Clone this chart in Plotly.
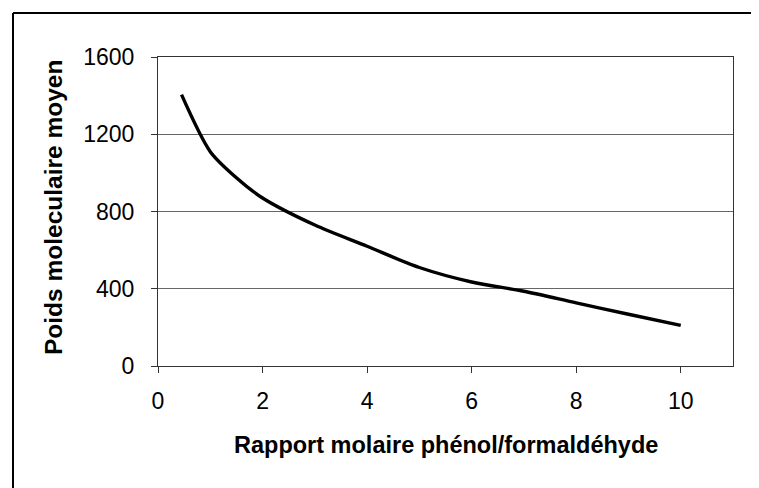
import plotly.graph_objects as go

# Data
ratio = [0.45, 1, 1.5, 2, 3, 4, 5, 6, 7, 8, 9, 10]
poids = [1405, 1110, 975, 870, 730, 620, 510, 435, 387, 327, 268, 210]

x_ticks = [0, 2, 4, 6, 8, 10]
y_ticks = [0, 400, 800, 1200, 1600]

x_title = "Rapport molaire phénol/formaldéhyde"
y_title = "Poids moleculaire moyen"

FONT = "Liberation Sans, Arial, sans-serif"

fig = go.Figure()
fig.add_trace(go.Scatter(
    x=ratio, y=poids, mode="lines",
    line=dict(color="black", width=3.4, shape="spline", smoothing=0.8),
    showlegend=False, hoverinfo="x+y",
))

# The page body adds an 8px offset, so the figure is 8px smaller
OFF = 8
W, H = 759 - OFF, 488 - OFF
L, T = 158 - OFF, 57 - OFF
R = W - (733 - OFF)
B = H - (366 - OFF)
pw, ph = W - L - R, H - T - B

def px_to_paper_x(px):
    return (px - OFF - L) / pw

def py_to_paper_y(py):
    return (H - B - (py - OFF)) / ph

fig.update_layout(
    width=W, height=H,
    margin=dict(l=L, r=R, t=T, b=B, pad=0),
    paper_bgcolor="white", plot_bgcolor="white",
    font=dict(family=FONT, size=23, color="black"),
    xaxis=dict(
        range=[0, 11], tickvals=x_ticks, ticktext=[str(v) for v in x_ticks],
        showgrid=False, zeroline=False,
        showline=True, linecolor="#333", linewidth=1, mirror=True,
        ticks="outside", ticklen=6, tickcolor="#333",
        ticklabelstandoff=8,
    ),
    yaxis=dict(
        range=[0, 1600], tickvals=y_ticks, ticktext=[str(v) for v in y_ticks],
        showgrid=True, gridcolor="#666", gridwidth=1, zeroline=False,
        showline=True, linecolor="#333", linewidth=1, mirror=True,
        ticks="outside", ticklen=6, tickcolor="#333",
        ticklabelstandoff=12,
    ),
    annotations=[
        dict(text=f"<b>{x_title}</b>", xref="paper", yref="paper",
             x=0.5, y=py_to_paper_y(445), xanchor="center", yanchor="middle",
             showarrow=False, font=dict(family=FONT, size=23.5, color="black")),
        dict(text=f"<b>{y_title}</b>", xref="paper", yref="paper",
             x=px_to_paper_x(53), y=py_to_paper_y(208), xanchor="center", yanchor="middle",
             textangle=-90, showarrow=False,
             font=dict(family=FONT, size=24.5, color="black")),
    ],
    shapes=[
        dict(type="line", xref="paper", yref="paper",
             x0=px_to_paper_x(13), x1=px_to_paper_x(13),
             y0=py_to_paper_y(13), y1=py_to_paper_y(492),
             line=dict(color="black", width=2)),
        dict(type="line", xref="paper", yref="paper",
             x0=px_to_paper_x(13), x1=px_to_paper_x(762),
             y0=py_to_paper_y(13), y1=py_to_paper_y(13),
             line=dict(color="black", width=2)),
    ],
)

fig.write_html("out.html")
